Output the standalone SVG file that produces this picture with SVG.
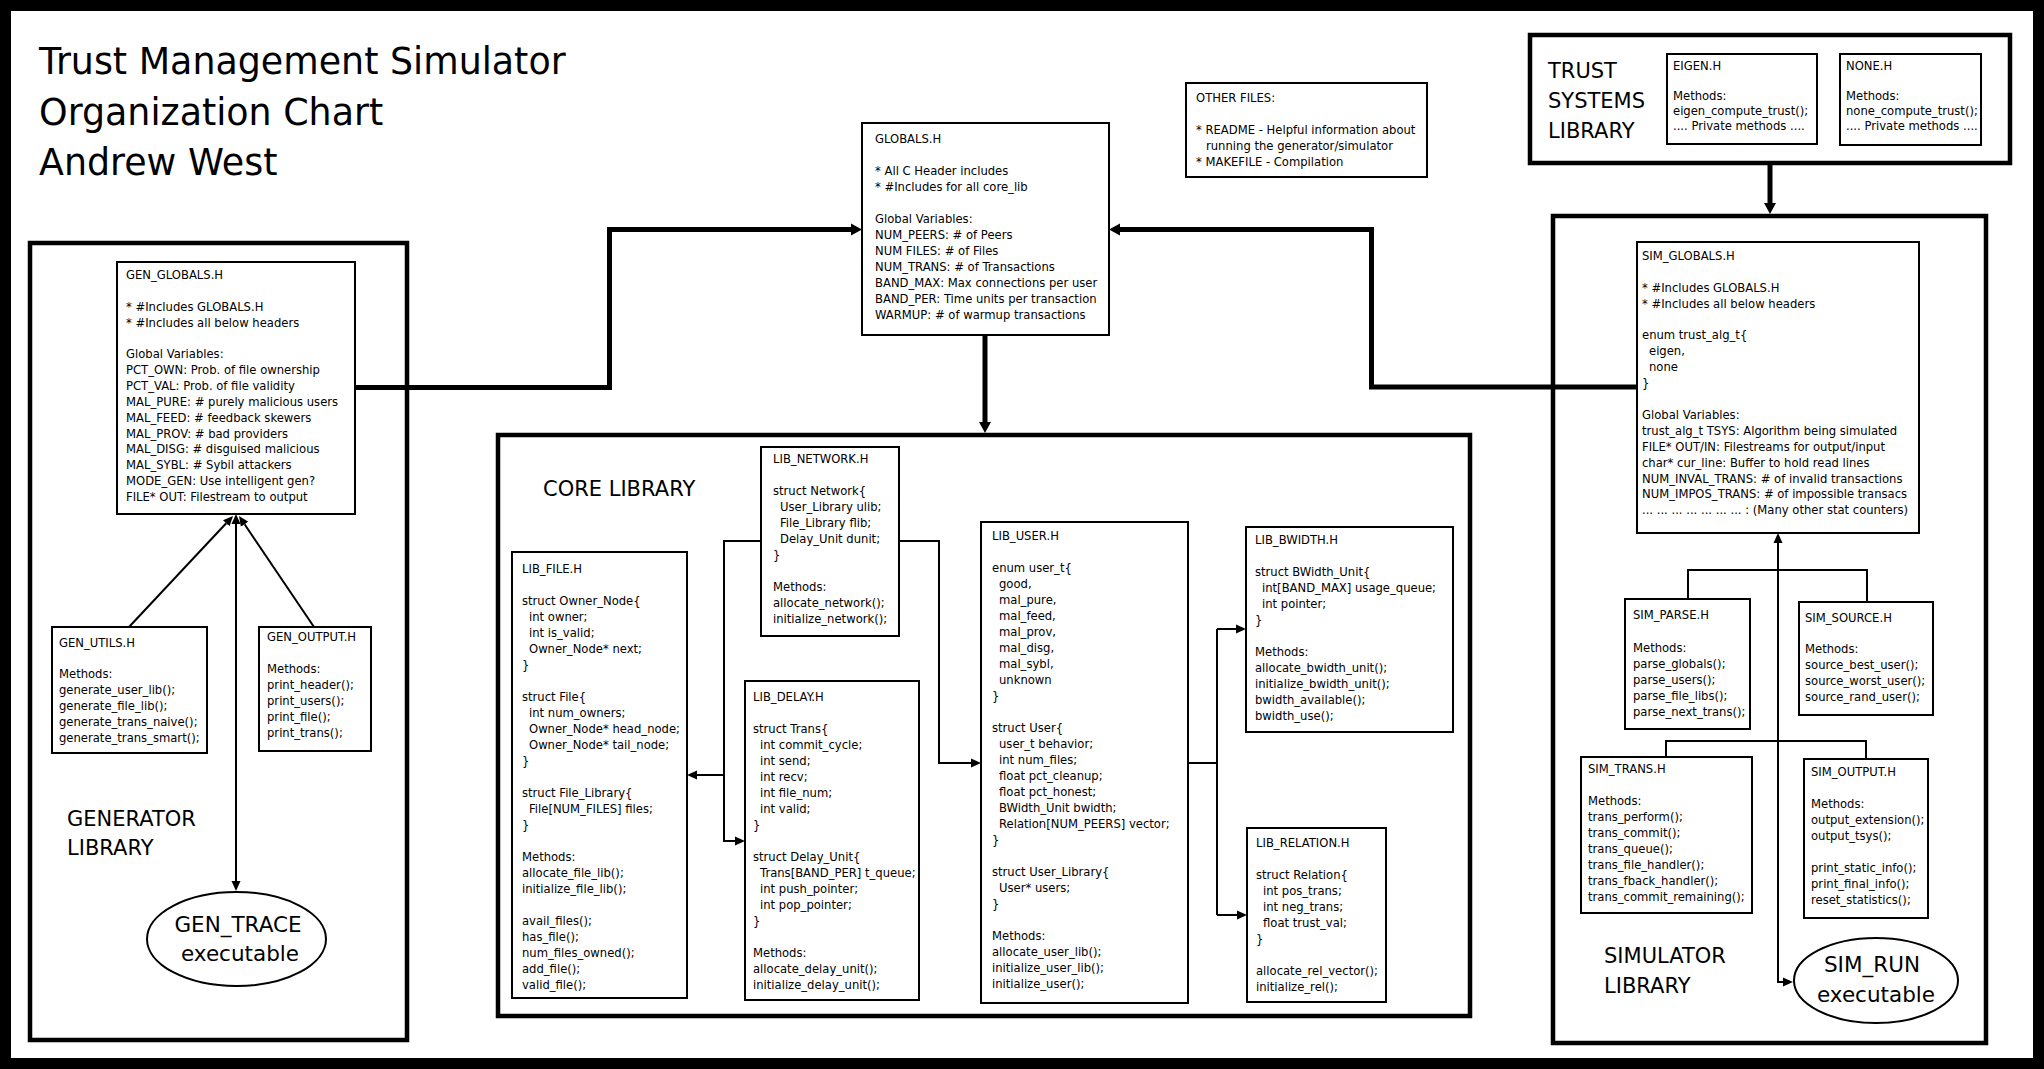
<svg xmlns="http://www.w3.org/2000/svg" width="2044" height="1069" viewBox="0 0 2044 1069">
<style>
text{font-family:"DejaVu Sans","Liberation Sans",sans-serif;fill:#000}
.c{font-size:11.6px}
.lbl{font-size:21px}
.exe{font-size:21.5px}
.title{font-size:36.4px}
.box{fill:#fff;stroke:#000;stroke-width:2}
.lib{fill:#fff;stroke:#000;stroke-width:4.5}
.thick{fill:none;stroke:#000;stroke-width:5}
.thin{fill:none;stroke:#000;stroke-width:2}
</style>
<defs>
<marker id="ak" markerUnits="userSpaceOnUse" markerWidth="12" markerHeight="14" viewBox="0 0 12 14" refX="0" refY="7" orient="auto-start-reverse"><path d="M0,1 L11,7 L0,13 z" fill="#000"/></marker>
<marker id="an" markerUnits="userSpaceOnUse" markerWidth="10" markerHeight="10" viewBox="0 0 10 10" refX="0" refY="5" orient="auto-start-reverse"><path d="M0,0.5 L10,5 L0,9.5 z" fill="#000"/></marker>
</defs>
<rect x="5.5" y="5.5" width="2033" height="1058" fill="#fff" stroke="#000" stroke-width="11"/>
<g id="title">
<text class="title" x="39" y="74">Trust Management Simulator</text>
<text class="title" x="39" y="125">Organization Chart</text>
<text class="title" x="39" y="175">Andrew West</text>
</g>
<g id="generator-library">
<rect class="lib" x="30" y="243" width="377" height="797"/>
<text class="lbl" x="67" y="826">GENERATOR</text>
<text class="lbl" x="67" y="855">LIBRARY</text>
</g>
<g id="core-library">
<rect class="lib" x="498" y="435" width="972" height="581"/>
<text class="lbl" x="543" y="496">CORE LIBRARY</text>
</g>
<g id="simulator-library">
<rect class="lib" x="1553" y="216" width="433" height="827"/>
<text class="lbl" x="1604" y="963">SIMULATOR</text>
<text class="lbl" x="1604" y="993">LIBRARY</text>
</g>
<g id="trust-systems-library">
<rect class="lib" x="1530" y="35" width="480" height="128"/>
<text class="lbl" x="1548" y="78">TRUST</text>
<text class="lbl" x="1548" y="108">SYSTEMS</text>
<text class="lbl" x="1548" y="138">LIBRARY</text>
</g>
<g id="connectors">
<path class="thick" d="M355,387.5 H609.5 V229.5 H851" marker-end="url(#ak)"/>
<path class="thick" d="M1637,387 H1371.5 V229.5 H1120" marker-end="url(#ak)"/>
<path class="thick" d="M985,335 V422" marker-end="url(#ak)"/>
<path class="thick" d="M1770,163 V203" marker-end="url(#ak)"/>
<path class="thin" d="M129,627 L226.2,523.3" marker-end="url(#an)"/>
<path class="thin" d="M314,627 L244.6,524.3" marker-end="url(#an)"/>
<path class="thin" d="M236,524 V881" marker-start="url(#an)" marker-end="url(#an)"/>
<path class="thin" d="M761,541 H724 V841 H735" marker-end="url(#an)"/>
<path class="thin" d="M724,775 H697" marker-end="url(#an)"/>
<path class="thin" d="M899,541 H939 V763 H971" marker-end="url(#an)"/>
<path class="thin" d="M1188,763 H1217"/>
<path class="thin" d="M1217,629 V915"/>
<path class="thin" d="M1217,629 H1236" marker-end="url(#an)"/>
<path class="thin" d="M1217,915 H1237" marker-end="url(#an)"/>
<path class="thin" d="M1778,543 V982 H1783" marker-start="url(#an)" marker-end="url(#an)"/>
<path class="thin" d="M1688,599 V570 H1867 V602"/>
<path class="thin" d="M1666,757 V741 H1866 V759"/>
</g>
<g id="gen_globals">
<rect class="box" x="117" y="262" width="238" height="252"/>
<text class="c"><tspan x="126" y="279">GEN_GLOBALS.H</tspan><tspan x="126" y="311">* #Includes GLOBALS.H</tspan><tspan x="126" y="327">* #Includes all below headers</tspan><tspan x="126" y="358">Global Variables:</tspan><tspan x="126" y="374">PCT_OWN: Prob. of file ownership</tspan><tspan x="126" y="390">PCT_VAL: Prob. of file validity</tspan><tspan x="126" y="406">MAL_PURE: # purely malicious users</tspan><tspan x="126" y="422">MAL_FEED: # feedback skewers</tspan><tspan x="126" y="438">MAL_PROV: # bad providers</tspan><tspan x="126" y="453">MAL_DISG: # disguised malicious</tspan><tspan x="126" y="469">MAL_SYBL: # Sybil attackers</tspan><tspan x="126" y="485">MODE_GEN: Use intelligent gen?</tspan><tspan x="126" y="501">FILE* OUT: Filestream to output</tspan></text>
</g>
<g id="gen_utils">
<rect class="box" x="52" y="627" width="155" height="126"/>
<text class="c"><tspan x="59" y="647">GEN_UTILS.H</tspan><tspan x="59" y="678">Methods:</tspan><tspan x="59" y="694">generate_user_lib();</tspan><tspan x="59" y="710">generate_file_lib();</tspan><tspan x="59" y="726">generate_trans_naive();</tspan><tspan x="59" y="742">generate_trans_smart();</tspan></text>
</g>
<g id="gen_output">
<rect class="box" x="259" y="627" width="112" height="124"/>
<text class="c"><tspan x="267" y="641">GEN_OUTPUT.H</tspan><tspan x="267" y="673">Methods:</tspan><tspan x="267" y="689">print_header();</tspan><tspan x="267" y="705">print_users();</tspan><tspan x="267" y="721">print_file();</tspan><tspan x="267" y="737">print_trans();</tspan></text>
</g>
<g id="gen_trace">
<ellipse cx="236.5" cy="939" rx="89.5" ry="47" fill="#fff" stroke="#000" stroke-width="2"/>
<text class="exe" x="238" y="932" text-anchor="middle">GEN_TRACE</text>
<text class="exe" x="240" y="961" text-anchor="middle">executable</text>
</g>
<g id="globals">
<rect class="box" x="862" y="123" width="247" height="212"/>
<text class="c"><tspan x="875" y="143">GLOBALS.H</tspan><tspan x="875" y="175">* All C Header includes</tspan><tspan x="875" y="191">* #Includes for all core_lib</tspan><tspan x="875" y="223">Global Variables:</tspan><tspan x="875" y="239">NUM_PEERS: # of Peers</tspan><tspan x="875" y="255">NUM FILES: # of Files</tspan><tspan x="875" y="271">NUM_TRANS: # of Transactions</tspan><tspan x="875" y="287">BAND_MAX: Max connections per user</tspan><tspan x="875" y="303">BAND_PER: Time units per transaction</tspan><tspan x="875" y="319">WARMUP: # of warmup transactions</tspan></text>
</g>
<g id="other_files">
<rect class="box" x="1186" y="83" width="241" height="94"/>
<text class="c"><tspan x="1196" y="102">OTHER FILES:</tspan><tspan x="1196" y="134">* README - Helpful information about</tspan><tspan x="1206" y="150">running the generator/simulator</tspan><tspan x="1196" y="166">* MAKEFILE - Compilation</tspan></text>
</g>
<g id="eigen">
<rect class="box" x="1667" y="54" width="150" height="90"/>
<text class="c"><tspan x="1673" y="70">EIGEN.H</tspan><tspan x="1673" y="100">Methods:</tspan><tspan x="1673" y="115">eigen_compute_trust();</tspan><tspan x="1673" y="130">.... Private methods ....</tspan></text>
</g>
<g id="none">
<rect class="box" x="1840" y="54" width="141" height="91"/>
<text class="c"><tspan x="1846" y="70">NONE.H</tspan><tspan x="1846" y="100">Methods:</tspan><tspan x="1846" y="115">none_compute_trust();</tspan><tspan x="1846" y="130">.... Private methods ....</tspan></text>
</g>
<g id="lib_network">
<rect class="box" x="761" y="447" width="138" height="189"/>
<text class="c"><tspan x="773" y="463">LIB_NETWORK.H</tspan><tspan x="773" y="495">struct Network{</tspan><tspan x="780" y="511">User_Library ulib;</tspan><tspan x="780" y="527">File_Library flib;</tspan><tspan x="780" y="543">Delay_Unit dunit;</tspan><tspan x="773" y="559">}</tspan><tspan x="773" y="591">Methods:</tspan><tspan x="773" y="607">allocate_network();</tspan><tspan x="773" y="623">initialize_network();</tspan></text>
</g>
<g id="lib_file">
<rect class="box" x="512" y="552" width="175" height="446"/>
<text class="c"><tspan x="522" y="573">LIB_FILE.H</tspan><tspan x="522" y="605">struct Owner_Node{</tspan><tspan x="529" y="621">int owner;</tspan><tspan x="529" y="637">int is_valid;</tspan><tspan x="529" y="653">Owner_Node* next;</tspan><tspan x="522" y="669">}</tspan><tspan x="522" y="701">struct File{</tspan><tspan x="529" y="717">int num_owners;</tspan><tspan x="529" y="733">Owner_Node* head_node;</tspan><tspan x="529" y="749">Owner_Node* tail_node;</tspan><tspan x="522" y="765">}</tspan><tspan x="522" y="797">struct File_Library{</tspan><tspan x="529" y="813">File[NUM_FILES] files;</tspan><tspan x="522" y="829">}</tspan><tspan x="522" y="861">Methods:</tspan><tspan x="522" y="877">allocate_file_lib();</tspan><tspan x="522" y="893">initialize_file_lib();</tspan><tspan x="522" y="925">avail_files();</tspan><tspan x="522" y="941">has_file();</tspan><tspan x="522" y="957">num_files_owned();</tspan><tspan x="522" y="973">add_file();</tspan><tspan x="522" y="989">valid_file();</tspan></text>
</g>
<g id="lib_delay">
<rect class="box" x="745" y="681" width="174" height="319"/>
<text class="c"><tspan x="753" y="701">LIB_DELAY.H</tspan><tspan x="753" y="733">struct Trans{</tspan><tspan x="760" y="749">int commit_cycle;</tspan><tspan x="760" y="765">int send;</tspan><tspan x="760" y="781">int recv;</tspan><tspan x="760" y="797">int file_num;</tspan><tspan x="760" y="813">int valid;</tspan><tspan x="753" y="829">}</tspan><tspan x="753" y="861">struct Delay_Unit{</tspan><tspan x="760" y="877">Trans[BAND_PER] t_queue;</tspan><tspan x="760" y="893">int push_pointer;</tspan><tspan x="760" y="909">int pop_pointer;</tspan><tspan x="753" y="925">}</tspan><tspan x="753" y="957">Methods:</tspan><tspan x="753" y="973">allocate_delay_unit();</tspan><tspan x="753" y="989">initialize_delay_unit();</tspan></text>
</g>
<g id="lib_user">
<rect class="box" x="981" y="522" width="207" height="481"/>
<text class="c"><tspan x="992" y="540">LIB_USER.H</tspan><tspan x="992" y="572">enum user_t{</tspan><tspan x="999" y="588">good,</tspan><tspan x="999" y="604">mal_pure,</tspan><tspan x="999" y="620">mal_feed,</tspan><tspan x="999" y="636">mal_prov,</tspan><tspan x="999" y="652">mal_disg,</tspan><tspan x="999" y="668">mal_sybl,</tspan><tspan x="999" y="684">unknown</tspan><tspan x="992" y="700">}</tspan><tspan x="992" y="732">struct User{</tspan><tspan x="999" y="748">user_t behavior;</tspan><tspan x="999" y="764">int num_files;</tspan><tspan x="999" y="780">float pct_cleanup;</tspan><tspan x="999" y="796">float pct_honest;</tspan><tspan x="999" y="812">BWidth_Unit bwidth;</tspan><tspan x="999" y="828">Relation[NUM_PEERS] vector;</tspan><tspan x="992" y="844">}</tspan><tspan x="992" y="876">struct User_Library{</tspan><tspan x="999" y="892">User* users;</tspan><tspan x="992" y="908">}</tspan><tspan x="992" y="940">Methods:</tspan><tspan x="992" y="956">allocate_user_lib();</tspan><tspan x="992" y="972">initialize_user_lib();</tspan><tspan x="992" y="988">initialize_user();</tspan></text>
</g>
<g id="lib_bwidth">
<rect class="box" x="1246" y="527" width="207" height="205"/>
<text class="c"><tspan x="1255" y="544">LIB_BWIDTH.H</tspan><tspan x="1255" y="576">struct BWidth_Unit{</tspan><tspan x="1262" y="592">int[BAND_MAX] usage_queue;</tspan><tspan x="1262" y="608">int pointer;</tspan><tspan x="1255" y="624">}</tspan><tspan x="1255" y="656">Methods:</tspan><tspan x="1255" y="672">allocate_bwidth_unit();</tspan><tspan x="1255" y="688">initialize_bwidth_unit();</tspan><tspan x="1255" y="704">bwidth_available();</tspan><tspan x="1255" y="720">bwidth_use();</tspan></text>
</g>
<g id="lib_relation">
<rect class="box" x="1247" y="828" width="139" height="174"/>
<text class="c"><tspan x="1256" y="847">LIB_RELATION.H</tspan><tspan x="1256" y="879">struct Relation{</tspan><tspan x="1263" y="895">int pos_trans;</tspan><tspan x="1263" y="911">int neg_trans;</tspan><tspan x="1263" y="927">float trust_val;</tspan><tspan x="1256" y="943">}</tspan><tspan x="1256" y="975">allocate_rel_vector();</tspan><tspan x="1256" y="991">initialize_rel();</tspan></text>
</g>
<g id="sim_globals">
<rect class="box" x="1637" y="242" width="282" height="291"/>
<text class="c"><tspan x="1642" y="260">SIM_GLOBALS.H</tspan><tspan x="1642" y="292">* #Includes GLOBALS.H</tspan><tspan x="1642" y="308">* #Includes all below headers</tspan><tspan x="1642" y="339">enum trust_alg_t{</tspan><tspan x="1649" y="355">eigen,</tspan><tspan x="1649" y="371">none</tspan><tspan x="1642" y="387">}</tspan><tspan x="1642" y="419">Global Variables:</tspan><tspan x="1642" y="435">trust_alg_t TSYS: Algorithm being simulated</tspan><tspan x="1642" y="451">FILE* OUT/IN: Filestreams for output/input</tspan><tspan x="1642" y="467">char* cur_line: Buffer to hold read lines</tspan><tspan x="1642" y="483">NUM_INVAL_TRANS: # of invalid transactions</tspan><tspan x="1642" y="498">NUM_IMPOS_TRANS: # of impossible transacs</tspan><tspan x="1642" y="514">... ... ... ... ... ... ... : (Many other stat counters)</tspan></text>
</g>
<g id="sim_parse">
<rect class="box" x="1625" y="599" width="125" height="130"/>
<text class="c"><tspan x="1633" y="619">SIM_PARSE.H</tspan><tspan x="1633" y="652">Methods:</tspan><tspan x="1633" y="668">parse_globals();</tspan><tspan x="1633" y="684">parse_users();</tspan><tspan x="1633" y="700">parse_file_libs();</tspan><tspan x="1633" y="716">parse_next_trans();</tspan></text>
</g>
<g id="sim_source">
<rect class="box" x="1799" y="602" width="134" height="113"/>
<text class="c"><tspan x="1805" y="622">SIM_SOURCE.H</tspan><tspan x="1805" y="653">Methods:</tspan><tspan x="1805" y="669">source_best_user();</tspan><tspan x="1805" y="685">source_worst_user();</tspan><tspan x="1805" y="701">source_rand_user();</tspan></text>
</g>
<g id="sim_trans">
<rect class="box" x="1581" y="757" width="171" height="156"/>
<text class="c"><tspan x="1588" y="773">SIM_TRANS.H</tspan><tspan x="1588" y="805">Methods:</tspan><tspan x="1588" y="821">trans_perform();</tspan><tspan x="1588" y="837">trans_commit();</tspan><tspan x="1588" y="853">trans_queue();</tspan><tspan x="1588" y="869">trans_file_handler();</tspan><tspan x="1588" y="885">trans_fback_handler();</tspan><tspan x="1588" y="901">trans_commit_remaining();</tspan></text>
</g>
<g id="sim_output">
<rect class="box" x="1804" y="759" width="124" height="159"/>
<text class="c"><tspan x="1811" y="776">SIM_OUTPUT.H</tspan><tspan x="1811" y="808">Methods:</tspan><tspan x="1811" y="824">output_extension();</tspan><tspan x="1811" y="840">output_tsys();</tspan><tspan x="1811" y="872">print_static_info();</tspan><tspan x="1811" y="888">print_final_info();</tspan><tspan x="1811" y="904">reset_statistics();</tspan></text>
</g>
<g id="sim_run">
<ellipse cx="1876" cy="980.5" rx="82" ry="42.5" fill="#fff" stroke="#000" stroke-width="2"/>
<text class="exe" x="1872" y="972" text-anchor="middle">SIM_RUN</text>
<text class="exe" x="1876" y="1002" text-anchor="middle">executable</text>
</g>
</svg>
